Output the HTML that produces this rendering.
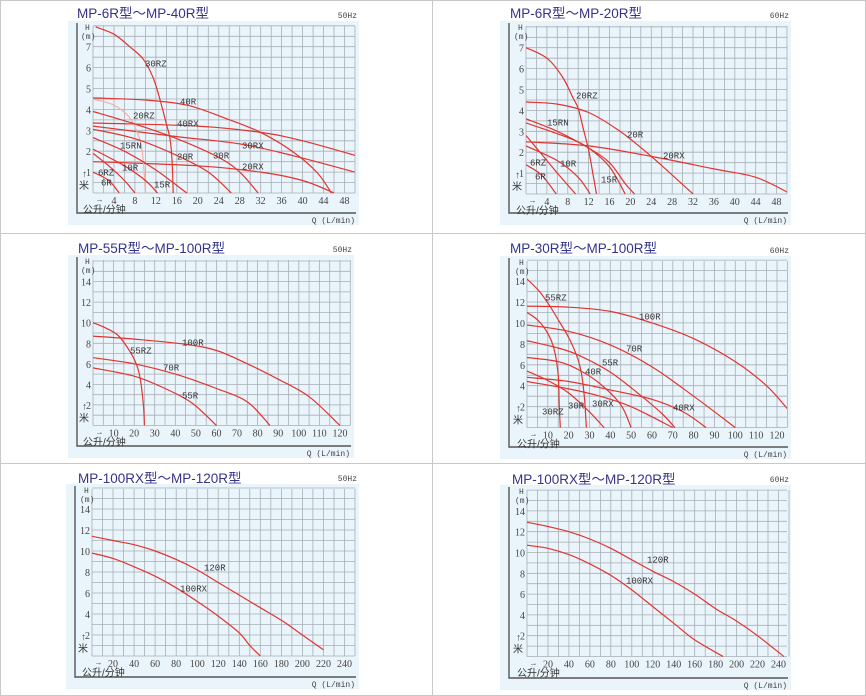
<!DOCTYPE html>
<html><head><meta charset="utf-8"><style>
html,body{margin:0;padding:0;background:#fff;}
svg{display:block;}
</style></head><body>
<svg id="s" width="866" height="696" xmlns="http://www.w3.org/2000/svg"></svg>
<script>
var NS="http://www.w3.org/2000/svg",S=document.getElementById('s'),out='';
out+='<rect x="0.5" y="0.5" width="865" height="695" fill="#fff" stroke="#c8c8c8"/>';
out+='<line x1="432.5" y1="0" x2="432.5" y2="696" stroke="#c8c8c8"/>';
out+='<line x1="0" y1="233.5" x2="866" y2="233.5" stroke="#c8c8c8"/>';
out+='<line x1="0" y1="463.5" x2="866" y2="463.5" stroke="#c8c8c8"/>';
function path(pts,P){
  var p=pts.map(function(a){return [P.q0+a[0]*P.sq,P.h0-a[1]*P.sh];});
  var d='M'+p[0][0].toFixed(1)+','+p[0][1].toFixed(1);
  for(var i=0;i<p.length-1;i++){
    var a=p[i>0?i-1:i],b=p[i],c=p[i+1],e=p[i+2<p.length?i+2:i+1];
    var c1=[b[0]+(c[0]-a[0])/6,b[1]+(c[1]-a[1])/6],c2=[c[0]-(e[0]-b[0])/6,c[1]-(e[1]-b[1])/6];
    d+=' C'+c1[0].toFixed(1)+','+c1[1].toFixed(1)+' '+c2[0].toFixed(1)+','+c2[1].toFixed(1)+' '+c[0].toFixed(1)+','+c[1].toFixed(1);
  }
  return d;
}
function panel(P){
  var o='';
  o+='<rect x="'+(P.fx-9)+'" y="'+(P.gt-5)+'" width="'+(P.gr-P.fx+13)+'" height="'+(P.fb-P.gt+17)+'" fill="#eaf4fb"/>';
  // grid
  var nc=P.qmax/P.qstep, nr=P.hmax/P.hstep;
  for(var i=0;i<=nc;i++){var x=P.q0+i*P.qstep*P.sq;o+='<line x1="'+x.toFixed(1)+'" y1="'+P.gt+'" x2="'+x.toFixed(1)+'" y2="'+P.h0+'" stroke="#a6aeb6" stroke-width="0.8"/>';}
  for(var j=0;j<=nr;j++){var y=P.h0-j*P.hstep*P.sh;o+='<line x1="'+P.q0+'" y1="'+y.toFixed(1)+'" x2="'+P.gr+'" y2="'+y.toFixed(1)+'" stroke="#a6aeb6" stroke-width="0.8"/>';}
  // frame
  o+='<path d="M'+P.fx+','+(P.gt-3)+' V'+P.fb+' H'+(P.gr+1)+'" fill="none" stroke="#555" stroke-width="1.4"/>';
  // ticks
  P.ht.forEach(function(h){o+='<text x="'+(P.q0-2)+'" y="'+(P.h0-h*P.sh+4)+'" text-anchor="end" class="t">'+h+'</text>';});
  P.qt.forEach(function(q){o+='<text x="'+(P.q0+q*P.sq)+'" y="'+(P.h0+11)+'" text-anchor="middle" class="t">'+q+'</text>';});
  o+='<text x="'+(P.q0-8)+'" y="'+(P.gt+4)+'" class="s">H</text>';
  o+='<text x="'+(P.q0-12)+'" y="'+(P.gt+13)+'" class="s">(m)</text>';
  o+='<text x="'+(P.q0-11)+'" y="'+(P.h0-16)+'" class="t">↑</text>';
  o+='<text x="'+(P.q0-14)+'" y="'+(P.h0-4)+'" class="c">米</text>';
  o+='<text x="'+(P.q0+4)+'" y="'+(P.h0+9)+'" class="s">→</text>';
  o+='<text x="'+(P.q0-10)+'" y="'+(P.h0+20)+'" class="c">公升/分钟</text>';
  o+='<text x="'+P.gr+'" y="'+(P.fb+10)+'" text-anchor="end" class="s">Q (L/min)</text>';
  o+='<text x="'+P.tx+'" y="'+P.ty+'" class="ti">'+P.title+'</text>';
  o+='<text x="'+(P.gr+2)+'" y="'+(P.gt-8)+'" text-anchor="end" class="s">'+P.hz+'</text>';
  o+='<clipPath id="c'+P.id+'"><rect x="'+P.q0+'" y="'+(P.gt-2)+'" width="'+(P.gr-P.q0)+'" height="'+(P.h0-P.gt+3)+'"/></clipPath><g clip-path="url(#c'+P.id+')">';
  P.curves.forEach(function(c){o+='<path d="'+path(c[0],P)+'" fill="none" stroke="'+(c[1]||'#e2342f')+'" stroke-width="1.2"/>';});
  o+='</g>';
  P.labels.forEach(function(l){o+='<text x="'+l[1]+'" y="'+(l[2]+3.5)+'" class="l">'+l[0]+'</text>';});
  return o;
}
var panels=[
{id:1,title:'MP-6R型～MP-40R型',hz:'50Hz',tx:77,ty:18,fx:77,fb:213,q0:93,gr:355,gt:26,h0:193,sq:5.24,sh:20.9,qmax:50,qstep:2,hmax:8,hstep:0.5,
 ht:[1,2,3,4,5,6,7],qt:[4,8,12,16,20,24,28,32,36,40,44,48],
 curves:[
 [[[0.5,7.95],[4,7.6],[7,7.0],[9.6,6.4],[11.5,5.5],[12.8,4.45],[14,3.3],[14.7,2.6],[15.1,1.5],[15.3,0]]],
 [[[0,4.55],[10,4.45],[18,4.2],[25,3.6],[32,2.9],[38,2.0],[42.7,1.0],[45.5,0]]],
 [[[0,3.35],[20,3.2],[32,2.9],[40,2.5],[50,1.8]]],
 [[[0,3.2],[16,2.7],[28,2.35],[38,1.8],[50,1.0]]],
 [[[0,1.5],[20,1.3],[32,1.0],[40,0.6],[46,0]]],
 [[[0,4.5],[4,4.2],[7,3.6],[9,2.5],[9.6,1.5],[10,0]],'#f0b0a8'],
 [[[0,3.9],[8,3.3],[16,2.6],[24,1.7],[28,1.0],[31.5,0]]],
 [[[0,3.05],[8,2.6],[16,1.8],[22,1.0],[26.4,0]]],
 [[[0,2.65],[6,2.0],[12,1.1],[17.9,0]]],
 [[[0,2.1],[6,1.3],[10,0.6],[12.3,0]]],
 [[[0,1.9],[3,1.3],[6,0.6],[8,0]]],
 [[[0,1.0],[3,0.6],[5,0]]]
 ],
 labels:[['30RZ',145,63],['40R',180,101],['20RZ',133,115],['40RX',177,123],['15RN',120,145],['30RX',242,145],['20R',177,156],['30R',213,155],['20RX',242,166],['10R',122,167],['6RZ',98,172],['6R',101,182],['15R',154,184]]},
{id:2,title:'MP-6R型～MP-20R型',hz:'60Hz',tx:510,ty:18,fx:509,fb:213,q0:526,gr:787,gt:26,h0:194,sq:5.22,sh:20.9,qmax:50,qstep:2,hmax:8,hstep:0.5,
 ht:[1,2,3,4,5,6,7],qt:[4,8,12,16,20,24,28,32,36,40,44,48],
 curves:[
 [[[0,7.0],[4,6.5],[7,5.6],[9,4.6],[10,4.1],[11,3.1],[12,2.1],[12.8,1.0],[13.5,0]]],
 [[[0,4.4],[6,4.3],[12,3.9],[18,3.0],[24,1.8],[32,0]]],
 [[[0,2.5],[12,2.3],[24,1.8],[36,1.2],[44,0.8],[50,0.1]]],
 [[[0,3.6],[6,3.0],[12,2.2],[16,1.5],[19,0.5],[20.8,0]]],
 [[[0,3.4],[8,2.7],[12,2.2],[16,1.3],[19,0]]],
 [[[0,2.3],[6,1.6],[10,0.8],[12.3,0]]],
 [[[0,2.8],[3,1.9],[6,1.0],[9.5,0]]],
 [[[0,1.4],[3,0.9],[5.8,0]]]
 ],
 labels:[['20RZ',576,95],['15RN',547,122],['20R',627,134],['20RX',663,155],['6RZ',530,162],['10R',560,163],['6R',535,176],['15R',601,179]]},
{id:3,title:'MP-55R型～MP-100R型',hz:'50Hz',tx:78,ty:253,fx:77,fb:446,q0:93,gr:350,gt:260,h0:425.5,sq:2.058,sh:10.28,qmax:125,qstep:5,hmax:16,hstep:1,
 ht:[2,4,6,8,10,12,14],qt:[10,20,30,40,50,60,70,80,90,100,110,120],
 curves:[
 [[[0,10],[6,9.5],[12,8.8],[17,7.5],[21,6.0],[23,4.5],[24.5,2],[25,0]]],
 [[[0,8.7],[20,8.4],[45,7.9],[60,7.3],[75,6.0],[90,4.5],[105,2.8],[120,0]]],
 [[[0,6.6],[20,6.0],[40,5.0],[60,3.6],[75,2.3],[86,0]]],
 [[[0,5.6],[20,4.8],[35,3.6],[48,2.2],[60,0]]]
 ],
 labels:[['100R',182,342],['55RZ',130,350],['70R',163,367],['55R',182,395]]},
{id:4,title:'MP-30R型～MP-100R型',hz:'60Hz',tx:510,ty:253,fx:509,fb:447,q0:527,gr:787,gt:261,h0:427.6,sq:2.083,sh:10.47,qmax:125,qstep:5,hmax:16,hstep:1,
 ht:[2,4,6,8,10,12,14],qt:[10,20,30,40,50,60,70,80,90,100,110,120],
 curves:[
 [[[0,14.2],[6,13],[11,11.6],[15,10.3],[20,8.6],[24,6.8],[26,5.3],[27.5,3],[28.5,0]]],
 [[[0,11],[5,10.3],[10,9],[13,7.5],[15,5],[15.5,2],[16,0]]],
 [[[0,11.6],[20,11.5],[40,11.1],[60,10],[80,8.5],[100,6.3],[115,4],[125,1.8]]],
 [[[0,9.8],[20,9.2],[40,7.9],[60,5.8],[80,3],[100,0]]],
 [[[0,8.3],[15,7.6],[25,6.9],[40,5.3],[55,3.0],[65,1.3],[71,0]]],
 [[[0,6.7],[15,6.3],[25,5.5],[35,4.2],[45,2.2],[50,0]]],
 [[[0,4.8],[20,4.4],[40,3.6],[60,2.7],[75,1.5],[86,0]]],
 [[[0,4.4],[20,3.7],[35,3.0],[50,2.0],[70,0]]],
 [[[0,5.4],[10,4.5],[20,3.3],[30,1.5],[37,0]]]
 ],
 labels:[['55RZ',545,297],['100R',639,316],['70R',626,348],['55R',602,362],['40R',585,371],['40RX',673,407],['30RX',592,403],['30R',568,405],['30RZ',542,411]]},
{id:5,title:'MP-100RX型～MP-120R型',hz:'50Hz',tx:78,ty:483,fx:75,fb:677,q0:92,gr:355,gt:489,h0:656,sq:1.052,sh:10.5,qmax:250,qstep:10,hmax:16,hstep:1,
 ht:[2,4,6,8,10,12,14],qt:[20,40,60,80,100,120,140,160,180,200,220,240],
 curves:[
 [[[0,11.4],[20,11.0],[40,10.6],[60,10.0],[80,9.2],[100,8.2],[120,7.0],[140,5.8],[160,4.6],[180,3.4],[200,2.0],[220,0.6]]],
 [[[0,9.8],[20,9.3],[40,8.5],[60,7.6],[80,6.5],[100,5.2],[120,3.8],[140,2.2],[150,1.0],[160,0]]]
 ],
 labels:[['120R',204,567],['100RX',180,588]]},
{id:6,title:'MP-100RX型～MP-120R型',hz:'60Hz',tx:512,ty:484,fx:509,fb:678,q0:527,gr:787,gt:490,h0:656.5,sq:1.048,sh:10.4,qmax:250,qstep:10,hmax:16,hstep:1,
 ht:[2,4,6,8,10,12,14],qt:[20,40,60,80,100,120,140,160,180,200,220,240],
 curves:[
 [[[0,12.9],[20,12.5],[40,12],[60,11.3],[80,10.4],[100,9.3],[120,8.2],[140,7.2],[160,6.0],[180,4.6],[200,3.4],[220,2.0],[245,0]]],
 [[[0,10.7],[20,10.4],[40,9.8],[60,8.9],[80,7.8],[100,6.4],[120,4.8],[140,3.2],[160,1.6],[187,0]]]
 ],
 labels:[['120R',647,559],['100RX',626,580]]}
];
out+='<style>.t{font:10px "Liberation Serif",serif;fill:#444}.s{font:8px "Liberation Mono",monospace;fill:#444}.c{font:10px "Liberation Sans","Noto Sans CJK SC",sans-serif;fill:#333}.l{font:9px "Liberation Mono",monospace;fill:#333}.ti{font:13.5px "Liberation Sans","Noto Sans CJK SC",sans-serif;fill:#34348a}</style>';
panels.forEach(function(P){out+=panel(P);});
S.innerHTML=out;
</script>
</body></html>
